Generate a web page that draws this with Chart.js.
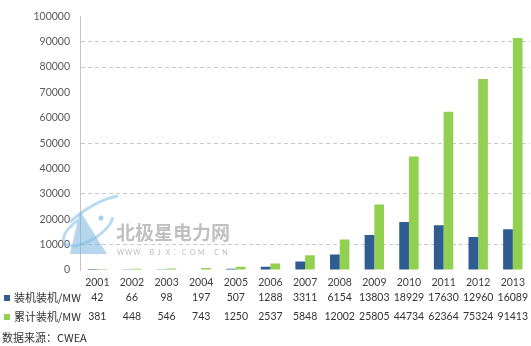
<!DOCTYPE html>
<html>
<head>
<meta charset="utf-8">
<script src="https://cdn.jsdelivr.net/npm/chart.js@4/dist/chart.umd.min.js"></script>
<style>
  html, body { margin: 0; padding: 0; background: #fff; }
  #wrap { width: 531px; height: 346px; position: relative; }
</style>
</head>
<body>
<div id="wrap"><canvas id="windChart"></canvas></div>
<script>
/* 中国风电装机 2001-2013 — bars plus data table underneath */

const years = ['2001','2002','2003','2004','2005','2006','2007','2008','2009','2010','2011','2012','2013'];
const newInstalled = [42, 66, 98, 197, 507, 1288, 3311, 6154, 13803, 18929, 17630, 12960, 16089];
const cumulative   = [381, 448, 546, 743, 1250, 2537, 5848, 12002, 25805, 44734, 62364, 75324, 91413];
const seriesNames  = ['装机装机/MW', '累计装机/MW'];
const sourceNote   = '数据来源：CWEA';
const yMax = 100000;
const yStep = 10000;

const BLUE  = '#2f5d91';
const GREEN = '#92d050';
const NUM_FONT = 'Lato, "Noto Sans", sans-serif';
const CJK_FONT = '"Noto Sans CJK SC", "Noto Sans", sans-serif';

// faint site watermark drawn behind the bars
const watermark = {
  id: 'watermark',
  beforeDatasetsDraw(chart) {
    const c = chart.ctx;
    c.save();
    // logo: triangle + swoosh
    c.fillStyle = 'rgba(120,180,220,0.55)';
    c.beginPath();
    c.moveTo(80, 211);
    c.lineTo(107, 254);
    c.lineTo(70, 254);
    c.closePath();
    c.fill();
    c.strokeStyle = 'rgba(130,190,225,0.55)';
    c.lineWidth = 3;
    c.beginPath();
    c.ellipse(88, 228, 28, 12, -0.55, 0.3, Math.PI * 1.45);
    c.stroke();
    c.beginPath();
    c.moveTo(70, 222);
    c.quadraticCurveTo(95, 200, 118, 196);
    c.stroke();
    c.fillStyle = 'rgba(130,190,225,0.7)';
    c.beginPath();
    c.arc(101, 218, 2.5, 0, Math.PI * 2);
    c.fill();

    c.fillStyle = 'rgba(150,150,150,0.6)';
    c.font = 'bold 19px ' + CJK_FONT;
    c.textBaseline = 'middle';
    c.textAlign = 'left';
    c.fillText('北极星电力网', 116, 233);
    c.font = '7px ' + NUM_FONT;
    c.fillStyle = 'rgba(160,160,160,0.7)';
    const url = 'WWW.BJX.COM.CN';
    for (let i = 0; i < url.length; i++) {
      c.fillText(url[i], 117 + i * 8.1, 253);
    }
    c.restore();
  }
};

// legend keys + value rows under the category axis
const dataTable = {
  id: 'dataTable',
  afterDraw(chart) {
    const c = chart.ctx;
    const xs = chart.scales.x;
    const rowsY = [298, 317];
    c.save();
    c.textBaseline = 'middle';
    chart.data.datasets.forEach((ds, i) => {
      const y = rowsY[i];
      c.fillStyle = ds.backgroundColor;
      c.fillRect(4, y - 3, 6, 6);
      c.fillStyle = '#333';
      c.textAlign = 'left';
      c.font = '11px ' + CJK_FONT;
      c.fillText(seriesNames[i], 14, y);
      c.textAlign = 'center';
      c.font = '10.5px ' + NUM_FONT;
      ds.data.forEach((v, j) => c.fillText(String(v), xs.getPixelForValue(j), y));
    });
    c.textAlign = 'left';
    c.font = '11px ' + CJK_FONT;
    c.fillStyle = '#333';
    c.fillText(sourceNote, 2, 338);
    c.restore();
  }
};

const shownGrid = new Set([10000, 30000, 50000, 80000, 90000]);

new Chart(document.getElementById('windChart'), {
  type: 'bar',
  data: {
    labels: years,
    datasets: [
      { label: seriesNames[0], data: newInstalled, backgroundColor: BLUE },
      { label: seriesNames[1], data: cumulative, backgroundColor: GREEN }
    ]
  },
  options: {
    responsive: true,
    maintainAspectRatio: false,
    animation: false,
    events: [],
    layout: { padding: { top: 8, right: 0, left: 0, bottom: 0 } },
    datasets: { bar: { categoryPercentage: 0.56, barPercentage: 1.0, borderWidth: 0 } },
    plugins: { legend: { display: false }, tooltip: { enabled: false } },
    scales: {
      x: {
        grid: { display: false, drawTicks: false },
        border: { display: false },
        ticks: { color: '#404040', font: { family: NUM_FONT, size: 10.5 }, padding: 6, maxRotation: 0 },
        afterFit: s => { s.height = 76; }
      },
      y: {
        min: 0,
        max: yMax,
        ticks: {
          stepSize: yStep,
          color: '#595959',
          font: { family: NUM_FONT, size: 10.5 },
          padding: 10,
          callback: v => String(v)
        },
        grid: {
          drawTicks: false,
          color: ctx => (ctx.tick && shownGrid.has(ctx.tick.value)) ? '#c9c9c9' : 'rgba(0,0,0,0)'
        },
        border: { color: '#c4c4c4', dash: [4, 3] },
        afterFit: s => { s.width = 80; }
      }
    }
  },
  plugins: [watermark, dataTable]
});
</script>
</body>
</html>
